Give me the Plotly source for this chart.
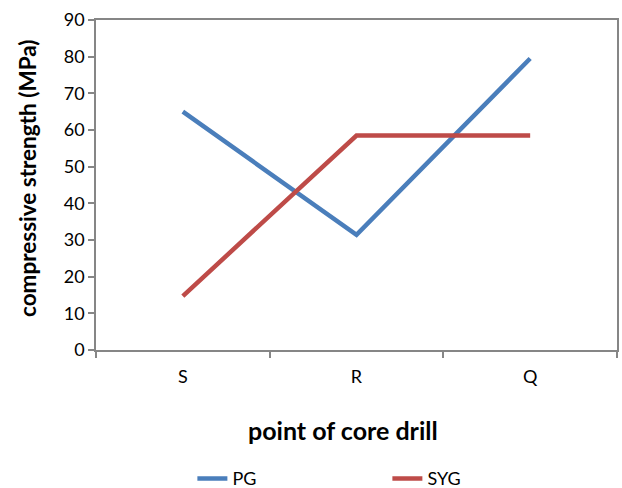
import plotly.graph_objects as go

categories = ["S", "R", "Q"]
pg_values = [65.0, 31.4, 79.5]
syg_values = [14.7, 58.5, 58.5]
y_ticks = [0, 10, 20, 30, 40, 50, 60, 70, 80, 90]
x_title = "point of core drill"
y_title = "compressive strength (MPa)"

FONT = "Lato, 'Open Sans', sans-serif"
AXIS_COLOR = "#868686"

fig = go.Figure()
fig.add_trace(go.Scatter(x=categories, y=pg_values, mode="lines", name="PG",
                         line=dict(color="#4A7EBB", width=4.5)))
fig.add_trace(go.Scatter(x=categories, y=syg_values, mode="lines", name="SYG",
                         line=dict(color="#BE4B48", width=4.5)))

fig.update_layout(
    width=622, height=488,
    margin=dict(l=96, r=5, t=20, b=138, autoexpand=False),
    paper_bgcolor="white", plot_bgcolor="white",
    font=dict(family=FONT, size=18, color="black"),
    showlegend=True,
    legend=dict(orientation="h", x=0.185, xanchor="left", y=-0.39, yanchor="middle",
                entrywidth=150, entrywidthmode="pixels", font=dict(size=18),
                bgcolor="rgba(0,0,0,0)"),
    annotations=[
        dict(text=f"<b>{x_title}</b>", xref="paper", yref="paper",
             x=(342.5 - 96) / 521, y=(350 - 430) / 330, xanchor="center", yanchor="middle",
             showarrow=False, font=dict(size=25)),
        dict(text=f"<b>{y_title}</b>", xref="paper", yref="paper",
             x=(27 - 96) / 521, y=(350 - 179) / 330, xanchor="center", yanchor="middle",
             textangle=-90, showarrow=False, font=dict(size=22.5)),
    ],
)
fig.update_xaxes(
    type="category", range=[-0.5, 2.5], automargin=False,
    showline=True, linecolor=AXIS_COLOR, linewidth=1.5, mirror=True,
    ticks="outside", tickson="boundaries", ticklen=6, tickcolor=AXIS_COLOR, tickwidth=1.5,
    showgrid=False, zeroline=False, tickfont=dict(size=18), ticklabelstandoff=10,
)
fig.update_yaxes(
    range=[0, 90], tickvals=y_ticks, automargin=False,
    showline=True, linecolor=AXIS_COLOR, linewidth=1.5, mirror=True,
    ticks="outside", ticklen=6, tickcolor=AXIS_COLOR, tickwidth=1.5,
    showgrid=False, zeroline=False, tickfont=dict(size=18),
)

fig.write_html("out.html", config={"displayModeBar": False},
               post_script="document.body.style.margin='0';")
